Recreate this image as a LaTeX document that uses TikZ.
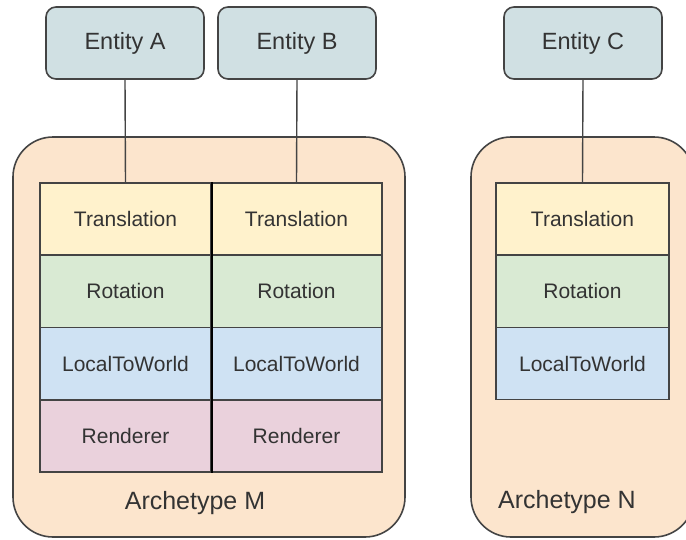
\documentclass[tikz,border=0pt]{standalone}
\usepackage{fontspec}
\setmainfont{Liberation Sans}
\definecolor{linegray}{HTML}{444444}
\definecolor{textgray}{HTML}{333333}
\definecolor{entityfill}{HTML}{D0E0E3}
\definecolor{archfill}{HTML}{FCE5CD}
\definecolor{transfill}{HTML}{FFF2CC}
\definecolor{rotfill}{HTML}{D9EAD3}
\definecolor{ltwfill}{HTML}{CFE2F3}
\definecolor{rendfill}{HTML}{EAD1DC}
\tikzset{
  entity/.style={draw=linegray, line width=1.6pt, fill=entityfill, rounded corners=10pt,
    minimum width=158pt, minimum height=72pt, inner sep=0pt, text=textgray,
    font=\fontsize{23.5}{27}\selectfont},
  archbox/.style={draw=linegray, line width=1.6pt, fill=archfill, rounded corners=40pt,
    inner sep=0pt},
  archlabel/.style={text=textgray, inner sep=0pt, font=\fontsize{25}{28}\selectfont},
  cell/.style={draw=linegray, line width=1.5pt, minimum height=72.25pt, inner sep=0pt,
    text=textgray, font=\fontsize{21}{24}\selectfont},
  cellM/.style={cell, minimum width=171pt},
  cellN/.style={cell, minimum width=173pt},
  link/.style={draw=linegray, line width=1.4pt},
  divider/.style={draw=black, line width=2.4pt}
}
\begin{document}
\begin{tikzpicture}[x=1pt, y=-1pt]
  \useasboundingbox (0,0) rectangle (686,539);
  \clip (0,0) rectangle (686,539);

  % archetype containers
  \node[archbox, minimum width=392pt, minimum height=400pt] (archM) at (209,337) {};
  \node[archbox, minimum width=223pt, minimum height=400pt] (archN) at (582.5,337) {};

  % Archetype M: two entity columns
  \node[cellM, fill=transfill] (tA) at (125.5,219.1) {Translation};
  \node[cellM, fill=rotfill]   (rA) at (125.5,291.4) {Rotation};
  \node[cellM, fill=ltwfill]   (lA) at (125.5,363.6) {LocalToWorld};
  \node[cellM, fill=rendfill]  (nA) at (125.5,435.9) {Renderer};

  \node[cellM, fill=transfill] (tB) at (296.5,219.1) {Translation};
  \node[cellM, fill=rotfill]   (rB) at (296.5,291.4) {Rotation};
  \node[cellM, fill=ltwfill]   (lB) at (296.5,363.6) {LocalToWorld};
  \node[cellM, fill=rendfill]  (nB) at (296.5,435.9) {Renderer};

  \draw[divider] (tA.north east) -- (nA.south east);

  % Archetype N: one entity column
  \node[cellN, fill=transfill] (tC) at (582.5,219.1) {Translation};
  \node[cellN, fill=rotfill]   (rC) at (582.5,291.4) {Rotation};
  \node[cellN, fill=ltwfill]   (lC) at (582.5,363.6) {LocalToWorld};

  \node[archlabel] (labM) at (195,503) {Archetype M};
  \node[archlabel] (labN) at (567,502) {Archetype N};

  % entities
  \node[entity] (eA) at (125,43) {Entity A};
  \node[entity] (eB) at (297,43) {Entity B};
  \node[entity] (eC) at (583,43) {Entity C};

  \draw[link] (eA.south) -- (tA.north);
  \draw[link] (eB.south) -- (tB.north);
  \draw[link] (eC.south) -- (tC.north);
\end{tikzpicture}
\end{document}
